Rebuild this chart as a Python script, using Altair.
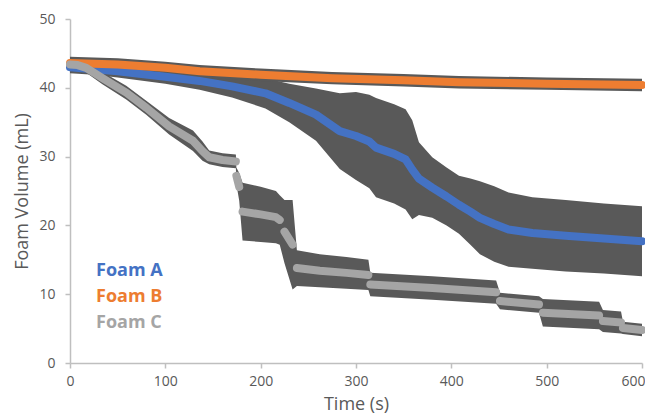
import altair as alt
import pandas as pd

series_names = ["Foam A", "Foam B", "Foam C"]
series_colors = ["#4472C4", "#ED7D31", "#A5A5A5"]
band_color = "#595959"

# Foam A
a_t = [0, 25, 50, 100, 136, 170, 205, 230, 258, 283, 300, 314, 321, 340, 352, 359, 366, 380, 395, 408, 420, 430, 445, 460, 485, 520, 560, 600]
a_v = [43.0, 42.7, 42.4, 41.6, 41.0, 40.2, 39.2, 37.8, 36.1, 33.7, 33.0, 32.2, 31.3, 30.4, 29.6, 28.1, 26.8, 25.5, 24.2, 23.0, 22.0, 21.1, 20.2, 19.4, 18.9, 18.5, 18.1, 17.7]
a_e = [0.9, 0.8, 0.9, 1.0, 1.3, 1.6, 2.2, 2.8, 3.8, 5.5, 6.4, 6.8, 7.2, 7.2, 7.3, 7.2, 5.3, 4.4, 4.2, 4.2, 4.8, 5.3, 5.5, 5.4, 5.2, 5.2, 5.1, 5.1]
a_seg = [1] * len(a_t)

# Foam B
b_t = [0, 50, 100, 136, 200, 275, 350, 408, 500, 600]
b_v = [43.6, 43.4, 42.9, 42.4, 41.9, 41.4, 41.1, 40.8, 40.6, 40.4]
b_e = [0.9, 0.9, 0.9, 0.9, 0.9, 0.9, 0.9, 0.9, 0.9, 0.9]
b_seg = [1] * len(b_t)

# Foam C
c_t = [0, 8, 17, 34, 59, 80, 104, 129, 139, 146, 160, 174,
       174.5, 177.5,
       181, 200, 216, 220,
       225, 233.5,
       238, 262, 290, 313,
       315, 380, 447,
       451, 492,
       496, 555,
       559, 578,
       580, 600]
c_v = [43.4, 43.3, 42.9, 41.4, 39.3, 37.1, 34.4, 32.3, 30.8, 29.9, 29.5, 29.3,
       27.2, 25.6,
       22.0, 21.6, 21.2, 20.8,
       19.1, 17.2,
       13.8, 13.4, 13.1, 12.8,
       11.4, 10.9, 10.3,
       9.0, 8.5,
       7.3, 6.9,
       6.1, 5.9,
       5.1, 4.8]
c_e = [0.6, 0.6, 0.7, 0.9, 1.0, 1.0, 1.2, 1.5, 1.4, 1.0, 1.0, 1.0,
       1.2, 2.0,
       4.2, 4.0, 3.8, 3.6,
       4.6, 6.5,
       2.6, 2.4, 2.3, 2.2,
       1.7, 1.7, 1.7,
       1.2, 1.2,
       2.0, 2.0,
       1.6, 1.6,
       0.9, 0.9]
c_seg = [1] * 12 + [2] * 2 + [3] * 4 + [4] * 2 + [5] * 4 + [6] * 3 + [7] * 2 + [8] * 2 + [9] * 2 + [10] * 2

x_ticks = [0, 100, 200, 300, 400, 500, 600]
y_ticks = [0, 10, 20, 30, 40, 50]

frames = []
for name, t, v, e, s in [("Foam A", a_t, a_v, a_e, a_seg),
                         ("Foam B", b_t, b_v, b_e, b_seg),
                         ("Foam C", c_t, c_v, c_e, c_seg)]:
    d = pd.DataFrame({"t": t, "v": v, "e": e, "seg": s})
    d["series"] = name
    d["lo"] = d["v"] - d["e"]
    d["hi"] = d["v"] + d["e"]
    d["key"] = name + "-" + d["seg"].astype(str)
    frames.append(d)
df = pd.concat(frames, ignore_index=True)

x_enc = alt.X("t:Q", title="Time (s)",
              scale=alt.Scale(domain=[0, 600], nice=False),
              axis=alt.Axis(values=x_ticks, grid=False, tickSize=5, labelPadding=6,
                            labelFlush=False, titlePadding=7,
                            labelAlign=alt.condition("datum.value == 600",
                                                     alt.value("right"), alt.value("center")),
                            labelOffset=alt.condition("datum.value == 600",
                                                      alt.value(3), alt.value(0))))
y_enc = alt.Y("v:Q", title="Foam Volume (mL)",
              scale=alt.Scale(domain=[0, 50], nice=False),
              axis=alt.Axis(values=y_ticks, grid=False, tickSize=5, labelPadding=10,
                            labelFlush=False, titlePadding=7))

color_enc = alt.Color(
    "series:N",
    scale=alt.Scale(domain=series_names, range=series_colors),
    legend=alt.Legend(
        title=None, orient="none", legendX=8, legendY=243,
        symbolSize=0, symbolOpacity=0, symbolStrokeWidth=0, labelOffset=0,
        labelFontSize=18, labelFontWeight="bold", labelFont="Open Sans",
        rowPadding=8,
        labelColor=alt.ExprRef(expr="scale('color', datum.value)"),
    ),
)

base = alt.Chart(df)

band = base.mark_area(color=band_color, opacity=1).encode(
    x=x_enc, y=alt.Y("lo:Q"), y2="hi:Q", detail="series:N"
)

def line_layer(name):
    return base.transform_filter(alt.datum.series == name).mark_line(
        strokeWidth=8, strokeCap="round", strokeJoin="round"
    ).encode(x=x_enc, y=y_enc, color=color_enc, detail="key:N")

chart = alt.layer(
    band, line_layer("Foam A"), line_layer("Foam B"), line_layer("Foam C")
).properties(
    width=572, height=344,
    autosize=alt.AutoSizeParams(type="none"),
    padding={"left": 62, "top": 11, "right": 3, "bottom": 52},
).configure(
    font="Open Sans",
).configure_view(
    stroke=None
).configure_axis(
    domainColor="#BFBFBF", domainWidth=1.5, tickColor="#BFBFBF", tickWidth=1.5,
    labelColor="#595959", labelFontSize=14, labelFont="Open Sans",
    titleColor="#595959", titleFontSize=18, titleFont="Open Sans", titleFontWeight="normal",
)

chart.save("out.html", embed_options={"renderer": "svg", "actions": False})
